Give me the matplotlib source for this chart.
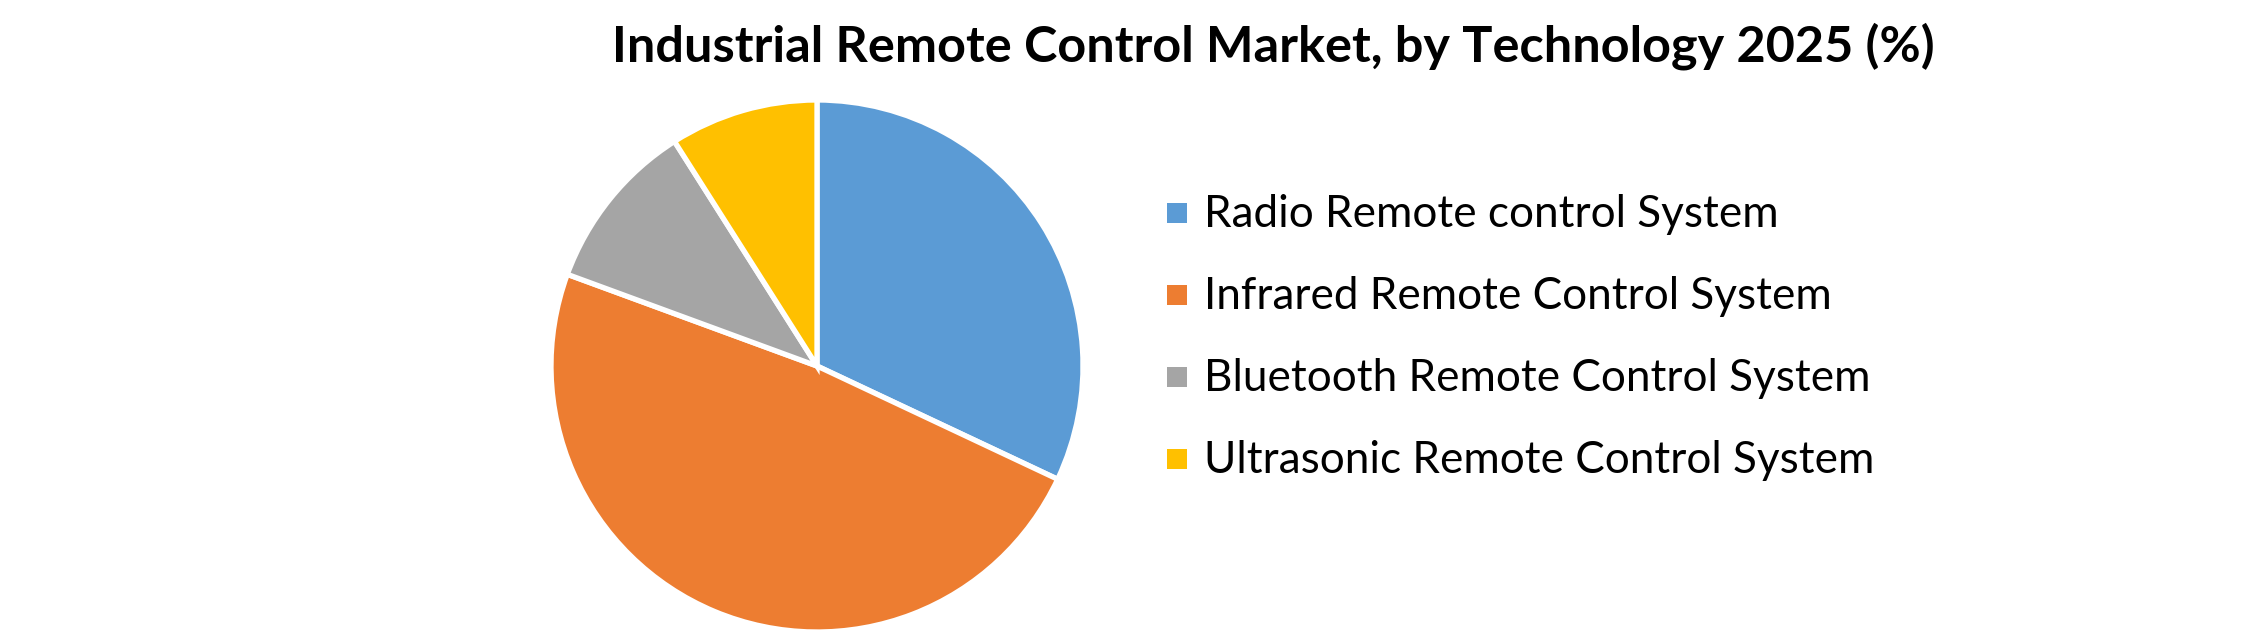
import matplotlib
matplotlib.use('Agg')
import matplotlib.pyplot as plt
from matplotlib.patches import Rectangle

# ---- data ----
categories = [
    "Radio Remote control System",
    "Infrared Remote Control System",
    "Bluetooth Remote Control System",
    "Ultrasonic Remote Control System",
]
values = [32.0, 48.6, 10.4, 9.0]
colors = ["#5B9BD5", "#ED7D31", "#A5A5A5", "#FFC000"]
title = "Industrial Remote Control Market, by Technology 2025 (%)"

FONT = ["Lato", "DejaVu Sans"]
plt.rcParams['font.family'] = FONT

W, H = 2245, 636
fig = plt.figure(figsize=(W / 100, H / 100), dpi=100)
fig.patch.set_facecolor('white')

# pie axes, in pixel layout
cx, cy, r = 817, 366, 266
ax = fig.add_axes([(cx - r) / W, (H - cy - r) / H, 2 * r / W, 2 * r / H])
wedges, _ = ax.pie(values, colors=colors, startangle=90, counterclock=False,
                   radius=1, wedgeprops=dict(edgecolor='white', linewidth=3.8))
ax.set_xlim(-1, 1)
ax.set_ylim(-1, 1)
ax.set_aspect('equal')
ax.axis('off')

renderer = fig.canvas.get_renderer()


def fitted_size(txt, target_w, **kw):
    t = fig.text(0, 0, txt, fontsize=40, **kw)
    w = t.get_window_extent(renderer).width
    t.remove()
    return 40 * target_w / w


# title
ts = fitted_size(title, 1322, fontweight='bold')
fig.text(612 / W, (H - 61) / H, title, fontsize=ts, fontweight='bold',
         ha='left', va='baseline', color='black')

# legend
ls = fitted_size(categories[0], 575)
sq = 20
for i, (lab, w) in enumerate(zip(categories, wedges)):
    mid = 212.5 + 82 * i
    fig.patches.append(Rectangle(((1167) / W, (H - mid - sq / 2) / H), sq / W, sq / H,
                                 transform=fig.transFigure, facecolor=w.get_facecolor(),
                                 edgecolor='none'))
    fig.text(1204 / W, (H - mid - 14.5) / H, lab, fontsize=ls, ha='left',
             va='baseline', color='black')

fig.savefig('out.png', dpi=100, facecolor='white')
